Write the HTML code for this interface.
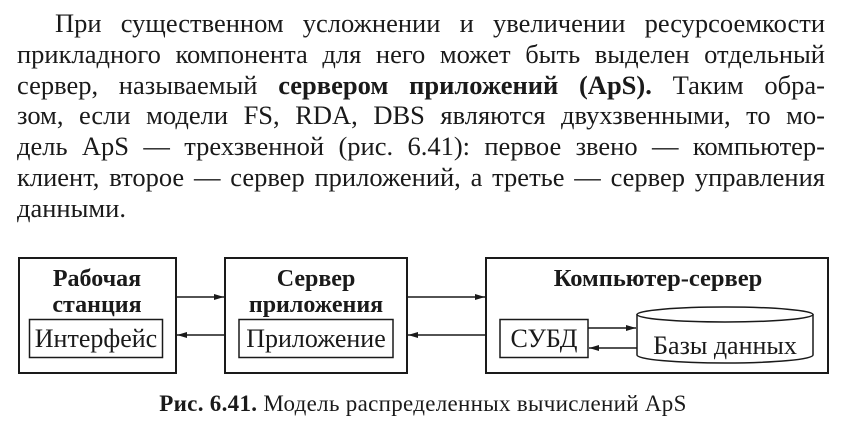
<!DOCTYPE html>
<html><head><meta charset="utf-8"><style>
html,body{margin:0;padding:0;background:#fff;}
body{width:852px;height:433px;position:relative;overflow:hidden;font-family:"Liberation Serif",serif;color:#1a1a1a;}
.p{position:absolute;left:17px;width:808px;top:8px;font-size:26.5px;line-height:30.8px;}
.l{text-align:justify;text-align-last:justify;white-space:nowrap;height:30.8px;}
.l.i{padding-left:38px;}
.l.e{text-align-last:left;}
svg{position:absolute;left:0;top:0;}
</style></head><body>
<div class="p">
<div class="l i">При существенном усложнении и увеличении ресурсоемкости</div>
<div class="l">прикладного компонента для него может быть выделен отдельный</div>
<div class="l">сервер, называемый <b>сервером приложений (ApS).</b> Таким обра-</div>
<div class="l">зом, если модели FS, RDA, DBS являются двухзвенными, то мо-</div>
<div class="l">дель ApS — трехзвенной (рис. 6.41): первое звено — компьютер-</div>
<div class="l">клиент, второе — сервер приложений, а третье — сервер управления</div>
<div class="l e">данными.</div>
</div>
<svg width="852" height="433" viewBox="0 0 852 433" font-family="Liberation Serif, serif" fill="none" stroke="#1a1a1a">
<defs><marker id="a" markerWidth="10" markerHeight="6" refX="10" refY="3" orient="auto" markerUnits="userSpaceOnUse"><path d="M0,0 L10,3 L0,6 Z" fill="#1a1a1a" stroke="none"/></marker></defs>
<rect x="19" y="258" width="157" height="115" stroke-width="2"/>
<rect x="225" y="258" width="182" height="115" stroke-width="2"/>
<rect x="486" y="258" width="342" height="115" stroke-width="2"/>
<rect x="29.5" y="319.5" width="133" height="38" stroke-width="1.5"/>
<rect x="239" y="319.5" width="154" height="38" stroke-width="1.5"/>
<rect x="500" y="319.5" width="88" height="38" stroke-width="1.5"/>
<path d="M637,314 L637,355 A88,8 0 0 0 813,355 L813,314" stroke-width="1.5" fill="#fff"/>
<ellipse cx="725" cy="314.5" rx="88" ry="7.5" stroke-width="1.5" fill="#fff"/>
<line x1="176" y1="297" x2="224" y2="297" stroke-width="1.6" marker-end="url(#a)"/>
<line x1="225" y1="335" x2="177" y2="335" stroke-width="1.6" marker-end="url(#a)"/>
<line x1="407" y1="297" x2="485" y2="297" stroke-width="1.6" marker-end="url(#a)"/>
<line x1="486" y1="335" x2="408" y2="335" stroke-width="1.6" marker-end="url(#a)"/>
<line x1="588" y1="328" x2="636" y2="328" stroke-width="1.4" marker-end="url(#a)"/>
<line x1="637" y1="348" x2="589" y2="348" stroke-width="1.4" marker-end="url(#a)"/>
<g fill="#1a1a1a" stroke="none" text-anchor="middle">
<text x="97" y="286" font-size="24" font-weight="bold">Рабочая</text>
<text x="97" y="312" font-size="24" font-weight="bold">станция</text>
<text x="316" y="286" font-size="24" font-weight="bold">Сервер</text>
<text x="316" y="312" font-size="24" font-weight="bold">приложения</text>
<text x="658" y="286" font-size="24.5" font-weight="bold">Компьютер-сервер</text>
<text x="96" y="347" font-size="26">Интерфейс</text>
<text x="316" y="347" font-size="26">Приложение</text>
<text x="544" y="347" font-size="26">СУБД</text>
<text x="725" y="354" font-size="26">Базы данных</text>
<text x="423" y="411" font-size="23" letter-spacing="0.3"><tspan font-weight="bold">Рис. 6.41.</tspan> Модель распределенных вычислений ApS</text>
</g>
</svg>
</body></html>
